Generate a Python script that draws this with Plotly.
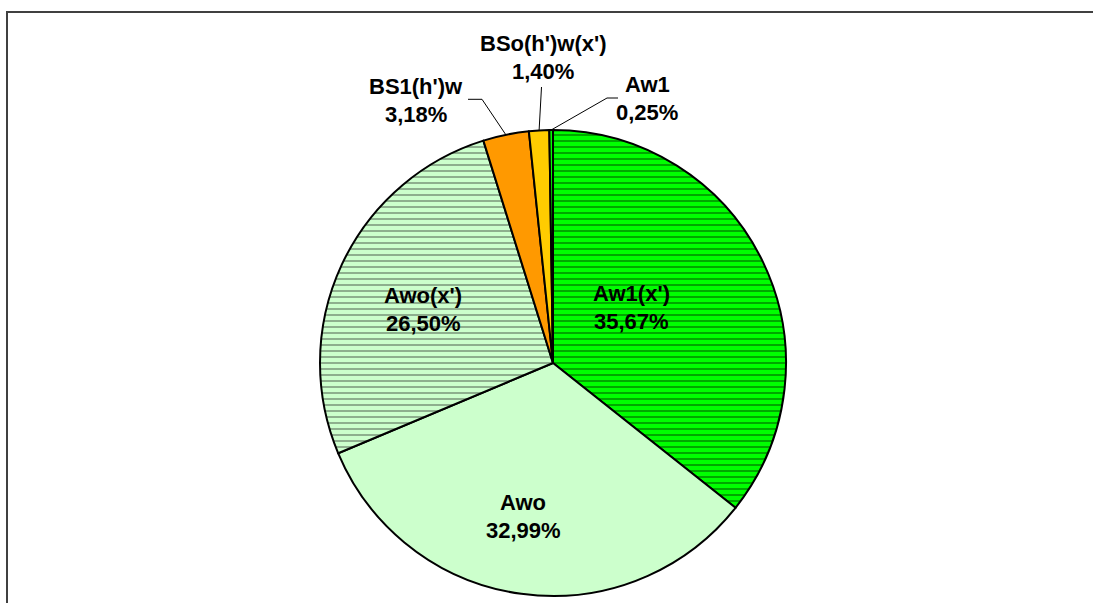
import math
import plotly.graph_objects as go

# ---- data ----
labels = ["Aw1(x')", "Awo", "Awo(x')", "BS1(h')w", "BSo(h')w(x')", "Aw1"]
values = [35.67, 32.99, 26.50, 3.18, 1.40, 0.25]

# ---- style ----
W, H = 1093, 603
CX, CY, R = 553, 363, 233
colors = ["#00FF00", "#CCFFCC", "#CCFFCC", "#FF9900", "#FFCC00", "#00FF00"]
shapes_p = ["-", "", "-", "", "", ""]
fgcolors = ["#005000", "#000000", "#506050", "#000000", "#000000", "#000000"]
# label centres (pixels) for each slice label
label_pos = [(631, 307.5), (523, 516), (423, 309), (416, 100), (543, 57), (647, 98)]
# leader line elbows (outside labels only): list of points from label side toward slice
leader_pts = {3: [(468, 99.3), (482, 99.3)],
              4: [(541.5, 87)],
              5: [(618, 98), (607, 98)]}
LINE_GAP = 14

fig = go.Figure()

fig.add_trace(go.Pie(
    labels=labels, values=values, sort=False, direction="clockwise", rotation=0,
    textinfo="none", hoverinfo="label+percent",
    marker=dict(colors=colors, line=dict(color="black", width=2),
                pattern=dict(shape=shapes_p, fgcolor=fgcolors, size=6, solidity=0.33,
                             fillmode="overlay")),
    domain=dict(x=[(CX - R) / W, (CX + R) / W], y=[1 - (CY + R) / H, 1 - (CY - R) / H]),
    showlegend=False,
))

# leader lines from slice mid angles
total = sum(values)
cum = 0
for i, v in enumerate(values):
    mid = (cum + v / 2) / total * 2 * math.pi
    cum += v
    if i in leader_pts:
        ex = CX + R * math.sin(mid)
        ey = CY - R * math.cos(mid)
        pts = leader_pts[i] + [(ex, ey)]
        fig.add_trace(go.Scatter(x=[p[0] for p in pts], y=[p[1] for p in pts], mode="lines",
                                 line=dict(color="black", width=1), hoverinfo="skip",
                                 showlegend=False, xaxis="x", yaxis="y"))

annotations = []
for i, (lab, v) in enumerate(zip(labels, values)):
    lx, ly = label_pos[i]
    pct = f"{v:.2f}".replace(".", ",") + "%"
    for txt, dy in ((lab, -LINE_GAP), (pct, LINE_GAP)):
        annotations.append(dict(x=lx, y=ly + dy, xref="x", yref="y", text=f"<b>{txt}</b>",
                                showarrow=False, xanchor="center", yanchor="middle",
                                font=dict(family="Arial, Liberation Sans, sans-serif",
                                          size=22, color="black")))

fig.update_layout(
    width=W, height=H, margin=dict(l=0, r=0, t=0, b=0),
    paper_bgcolor="white", plot_bgcolor="rgba(0,0,0,0)",
    xaxis=dict(range=[0, W], visible=False, fixedrange=True, domain=[0, 1]),
    yaxis=dict(range=[H, 0], visible=False, fixedrange=True, domain=[0, 1]),
    annotations=annotations,
    shapes=[dict(type="rect", xref="paper", yref="paper", x0=7 / W, x1=1.02,
                 y0=-0.02, y1=1 - 12 / H, line=dict(color="#404040", width=2))],
    showlegend=False,
)

fig.write_html("out.html")
